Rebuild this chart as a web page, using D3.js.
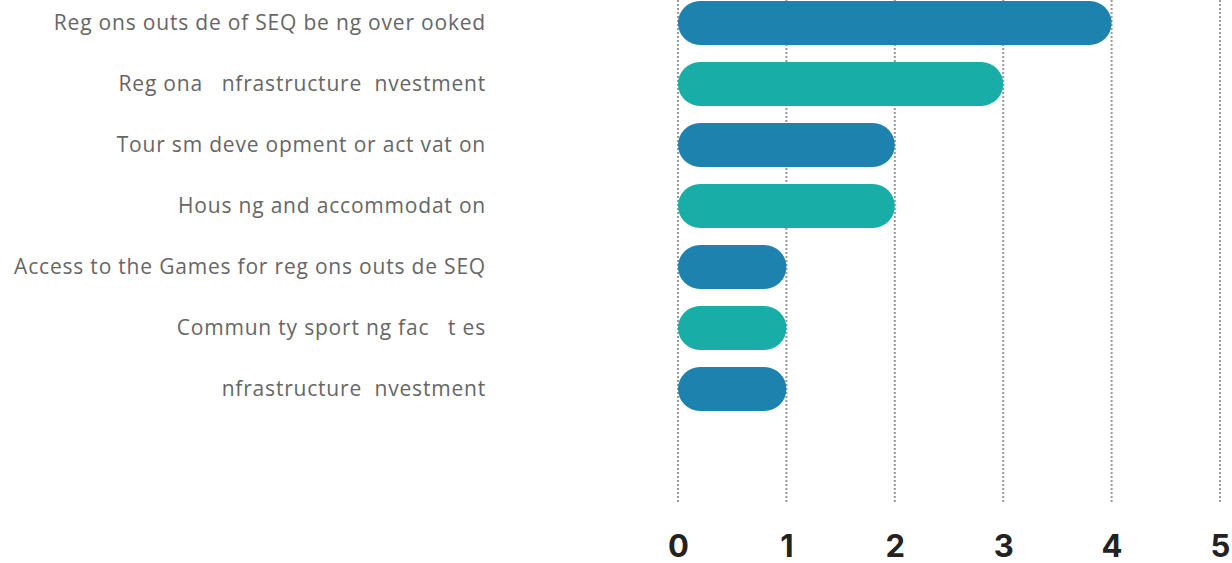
<!DOCTYPE html>
<html>
<head>
<meta charset="utf-8">
<script src="https://cdn.jsdelivr.net/npm/d3@7"></script>
<style>
  html, body { margin: 0; padding: 0; background: #fff; }
  #chart { width: 1232px; height: 563px; }
</style>
</head>
<body>
<div id="chart"></div>
<script>
// labels as shown in the picture (the i / l glyphs are blank in the original)
const categories = [
    "Reg ons outs de of SEQ be ng over ooked",
    "Reg ona   nfrastructure  nvestment",
    "Tour sm deve opment or act vat on",
    "Hous ng and accommodat on",
    "Access to the Games for reg ons outs de SEQ",
    "Commun ty sport ng fac   t es",
    " nfrastructure  nvestment"
];
const values = [4, 3, 2, 2, 1, 1, 1];
const tickValues = [0, 1, 2, 3, 4, 5];
const colors = ["#1d82ad", "#18aea7"];

const width = 1232, height = 563;

const svg = d3.select("#chart").append("svg")
    .attr("width", width)
    .attr("height", height);

const x = d3.scaleLinear().domain([0, 5]).range([678, 1220]);
const y = d3.scaleBand().domain(categories).range([-7.5, 419.5])
    .paddingInner(0.28).paddingOuter(0.14);

// dotted grid lines
svg.append("g")
    .selectAll("line")
    .data(tickValues)
    .join("line")
    .attr("x1", d => x(d))
    .attr("x2", d => x(d))
    .attr("y1", 0)
    .attr("y2", 503)
    .attr("stroke", "#999")
    .attr("stroke-width", 2)
    .attr("stroke-dasharray", "2,2");

// pill-shaped bars
svg.append("g")
    .selectAll("rect")
    .data(values)
    .join("rect")
    .attr("x", x(0))
    .attr("y", (d, i) => y(categories[i]))
    .attr("width", d => x(d) - x(0))
    .attr("height", y.bandwidth())
    .attr("rx", y.bandwidth() / 2)
    .attr("fill", (d, i) => colors[i % 2]);

// category labels
svg.append("g")
    .selectAll("text")
    .data(categories)
    .join("text")
    .attr("x", 486)
    .attr("y", d => y(d) + y.bandwidth() / 2)
    .attr("dy", "0.35em")
    .attr("text-anchor", "end")
    .style("white-space", "pre")
    .attr("font-family", "'Open Sans', sans-serif")
    .attr("font-size", 21)
    .attr("letter-spacing", 0.8)
    .attr("fill", "#666")
    .text(d => d);

// x axis numbers
const xAxis = d3.axisBottom(x).tickValues(tickValues).tickFormat(d3.format("d"))
    .tickSize(0).tickPadding(0);
const gx = svg.append("g")
    .attr("transform", "translate(0,535)")
    .call(xAxis);
gx.select(".domain").remove();
gx.selectAll("text")
    .attr("font-family", "Inter, 'Open Sans', sans-serif")
    .attr("font-size", 31)
    .attr("font-weight", 700)
    .attr("fill", "#222");
</script>
</body>
</html>
